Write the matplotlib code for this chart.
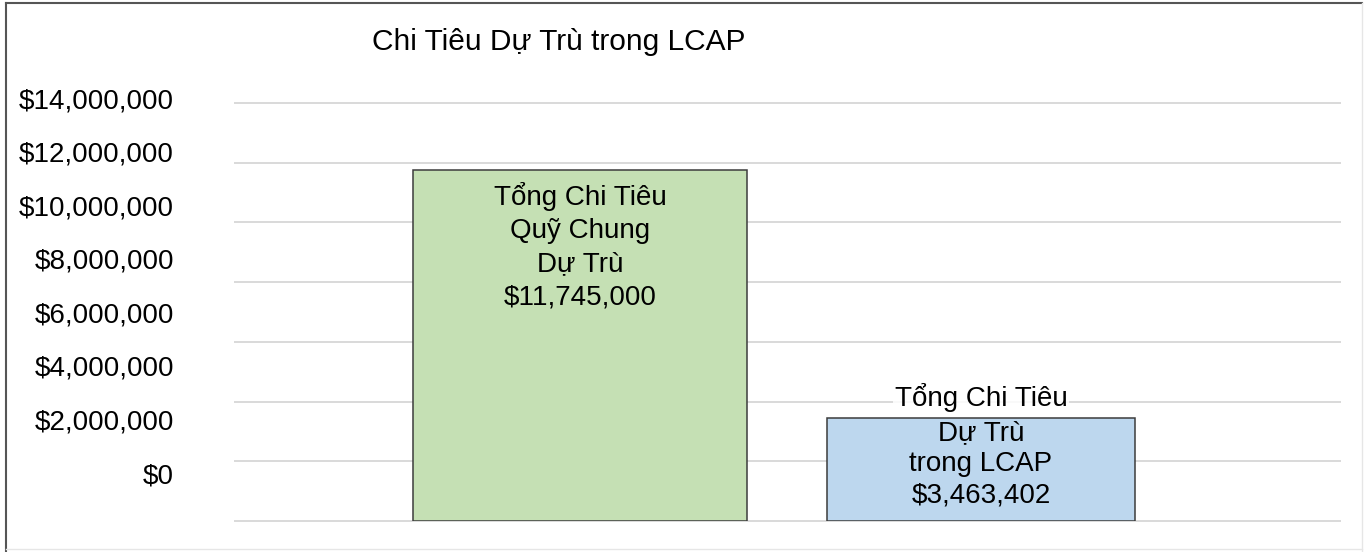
import matplotlib
matplotlib.use("Agg")
import matplotlib.pyplot as plt
from matplotlib.ticker import FuncFormatter, MultipleLocator
from matplotlib.lines import Line2D

plt.rcParams.update({
    "font.family": ["Liberation Sans", "DejaVu Sans"],
    "font.size":   20,
    "text.color":  "black",
})

# Data
title      = "Chi Tiêu Dự Trù trong LCAP"
categories = ["Tổng Chi Tiêu\nQuỹ Chung\nDự Trù", "Tổng Chi Tiêu\nDự Trù\ntrong LCAP"]
values     = [11745000, 3463402]
colors     = ["#c5e0b4", "#bdd7ee"]
y_max      = 14000000
y_step     = 2000000

money = lambda v, _=None: f"${v:,.0f}"

W, H = 1365, 552
fig = plt.figure(figsize=(W / 100, H / 100), dpi=100)

# main plot area (gridlines 235..1340 px, 0 at 521 px, 14M at 103 px)
ax = fig.add_axes([235 / W, (H - 521) / H, (1340 - 235) / W, (521 - 103) / H])
ax.set_ylim(0, y_max)
ax.set_xlim(-0.86, 1.895)
ax.yaxis.set_major_locator(MultipleLocator(y_step))
ax.yaxis.grid(True, color="#d9d9d9", linewidth=1.4)
ax.set_axisbelow(True)
for s in ax.spines.values():
    s.set_visible(False)
ax.tick_params(left=False, bottom=False, labelleft=False, labelbottom=False)
for gl in ax.get_ygridlines():
    gl.set_clip_on(False)

bars = ax.bar([0, 1], values, width=[0.833, 0.768], color=colors,
              edgecolor="#3c3c3c", linewidth=1.1, zorder=2)

# labels inside / over the bars
ax.text(0, 9.2e6, categories[0] + "\n" + money(values[0]),
        ha="center", va="center", fontsize=20, linespacing=1.35, zorder=3)
first, rest = categories[1].split("\n", 1)
ax.text(1, 4.15e6, first, ha="center", va="center", fontsize=20, zorder=4,
        bbox=dict(facecolor="white", edgecolor="none", pad=1, alpha=0.85))
ax.text(1, 1.9e6, rest + "\n" + money(values[1]),
        ha="center", va="center", fontsize=20, linespacing=1.25, zorder=3)

# y labels sit on their own (compressed) scale, as in the original
lab = fig.add_axes([174 / W, (H - 473) / H, 10 / W, (473 - 98) / H])
lab.set_ylim(0, y_max)
lab.yaxis.set_major_locator(MultipleLocator(y_step))
lab.yaxis.set_major_formatter(FuncFormatter(money))
lab.tick_params(axis="y", length=0, pad=0, labelsize=20)
lab.tick_params(axis="x", bottom=False, labelbottom=False)
lab.patch.set_visible(False)
for s in lab.spines.values():
    s.set_visible(False)

fig.text(372 / W, 1 - 42 / H, title, ha="left", va="center", fontsize=21.5)

# outer frame
fig.add_artist(Line2D([6 / W, 6 / W], [0, 1 - 3 / H], color="#555555", linewidth=1.5))
fig.add_artist(Line2D([6 / W, 1362 / W], [1 - 3 / H, 1 - 3 / H], color="#555555", linewidth=1.5))
fig.add_artist(Line2D([1362 / W, 1362 / W], [1 / H, 1 - 3 / H], color="#e6e6e6", linewidth=1))
fig.add_artist(Line2D([6 / W, 1362 / W], [3 / H, 3 / H], color="#e6e6e6", linewidth=1))

fig.savefig("out.png", dpi=100, facecolor="white")
